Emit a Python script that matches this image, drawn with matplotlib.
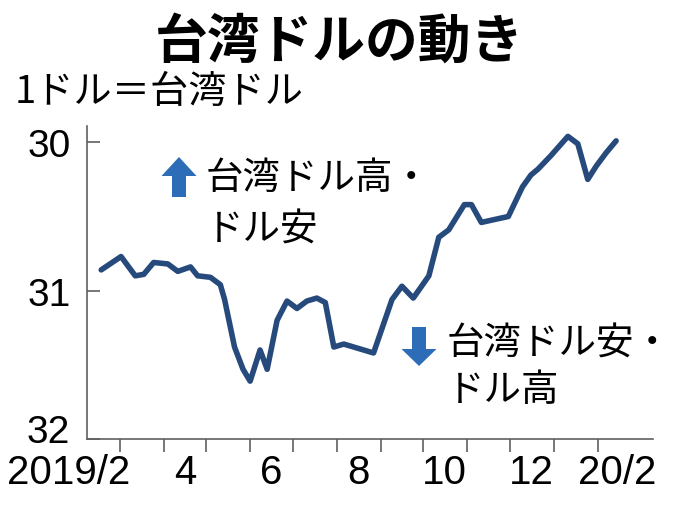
import matplotlib
matplotlib.use("Agg")
import matplotlib.pyplot as plt
import matplotlib.patches as mpatches
from matplotlib import font_manager as fm
from matplotlib.transforms import ScaledTranslation
import pandas as pd

# ---- data ----
dates = ["2019-02-16", "2019-03-02", "2019-03-12", "2019-03-18", "2019-03-25",
         "2019-04-04", "2019-04-11", "2019-04-20", "2019-04-25", "2019-05-04",
         "2019-05-11", "2019-05-14", "2019-05-21", "2019-05-27", "2019-06-01",
         "2019-06-08", "2019-06-13", "2019-06-20", "2019-06-27", "2019-07-04",
         "2019-07-11", "2019-07-18", "2019-07-24", "2019-07-30", "2019-08-06",
         "2019-08-13", "2019-08-20", "2019-08-27", "2019-09-09", "2019-09-16",
         "2019-09-24", "2019-10-05", "2019-10-12", "2019-10-19", "2019-10-30",
         "2019-11-04", "2019-11-11", "2019-11-30", "2019-12-10", "2019-12-16",
         "2019-12-21", "2019-12-30", "2020-01-11", "2020-01-18", "2020-01-25",
         "2020-01-31", "2020-02-07", "2020-02-14"]
twd_per_usd = [30.86, 30.77, 30.90, 30.89, 30.81,
               30.82, 30.87, 30.84, 30.90, 30.91,
               30.96, 31.06, 31.38, 31.53, 31.61,
               31.40, 31.53, 31.20, 31.07, 31.12,
               31.07, 31.05, 31.08, 31.38, 31.36,
               31.38, 31.40, 31.42, 31.06, 30.97,
               31.05, 30.90, 30.64, 30.59, 30.42,
               30.42, 30.54, 30.50, 30.30, 30.22,
               30.18, 30.09, 29.96, 30.01, 30.25,
               30.16, 30.07, 29.99]
y_ticks = [30, 31, 32]
y_tick_labels = ["30", "31", "32"]
month_ticks = ["2019-03-01", "2019-04-01", "2019-05-01", "2019-06-01", "2019-07-01",
               "2019-08-01", "2019-09-01", "2019-10-01", "2019-11-01", "2019-12-01",
               "2020-01-01", "2020-02-01"]
x_label_pos = ["2019-02-15", "2019-04-16", "2019-06-16", "2019-08-16",
               "2019-10-16", "2019-12-16", "2020-02-15"]
x_labels = ["2019/2", "4", "6", "8", "10", "12", "20/2"]

title = "台湾ドルの動き"
unit_label = "1ドル＝台湾ドル"
note_up = ["台湾ドル高・", "ドル安"]
note_down = ["台湾ドル安・", "ドル高"]

# ---- fonts ----
names = {f.name for f in fm.fontManager.ttflist}
narrow = "Liberation Sans Narrow" if "Liberation Sans Narrow" in names else "Liberation Sans"
is_narrow = narrow == "Liberation Sans Narrow"
cjk = ["Noto Sans CJK JP", "DejaVu Sans"]

W, H = 680, 510
fig = plt.figure(figsize=(W / 100, H / 100), dpi=100)
fig.patch.set_facecolor("white")

ax_l, ax_r, ax_t, ax_b = 87, 653, 127, 440
ax = fig.add_axes([ax_l / W, 1 - ax_b / H, (ax_r - ax_l) / W, (ax_b - ax_t) / H])

x = pd.to_datetime(dates)
ax.plot(x, twd_per_usd, color="#264a7c", lw=4.0, solid_joinstyle="round",
        solid_capstyle="round", zorder=3)

ax.set_ylim(32, 29.89)
ax.set_xlim(pd.Timestamp("2019-02-06"), pd.Timestamp("2020-03-11"))

for s in ["top", "right"]:
    ax.spines[s].set_visible(False)
for s in ["left", "bottom"]:
    ax.spines[s].set_color("#606060")
    ax.spines[s].set_linewidth(1.2)

ax.set_yticks(y_ticks)
ax.set_yticklabels(y_tick_labels, fontfamily=narrow, fontsize=30 if is_narrow else 28,
                   color="black")
ax.tick_params(axis="y", direction="in", length=9, width=1.2, color="#606060", pad=12)
lab32 = ax.get_yticklabels()[-1]
lab32.set_transform(lab32.get_transform() + ScaledTranslation(0, 0.11, fig.dpi_scale_trans))

ax.set_xticks(pd.to_datetime(month_ticks))
ax.set_xticklabels([])
ax.tick_params(axis="x", which="major", direction="out", length=9, width=1.2, color="#606060")
ax.set_xticks(pd.to_datetime(x_label_pos), minor=True)
ax.set_xticklabels(x_labels, minor=True, fontfamily=narrow,
                   fontsize=34 if is_narrow else 29, color="black")
ax.tick_params(axis="x", which="minor", length=0, pad=10)
lab0 = ax.get_xticklabels(minor=True)[0]
lab0.set_transform(lab0.get_transform() + ScaledTranslation(-0.31, 0, fig.dpi_scale_trans))

# ---- texts ----
def fx(px):
    return px / W

def fy(py):
    return 1 - py / H

fig.text(fx(340), fy(42), title, family=cjk, fontsize=38, fontweight="bold",
         ha="center", va="center")
fig.text(fx(15), fy(92), unit_label, family=cjk, fontsize=27.5, ha="left", va="center")

fig.text(fx(206), fy(178), note_up[0], family=cjk, fontsize=27, ha="left", va="center")
fig.text(fx(206), fy(230), note_up[1], family=cjk, fontsize=27, ha="left", va="center")
fig.text(fx(447), fy(344), note_down[0], family=cjk, fontsize=27, ha="left", va="center")
fig.text(fx(447), fy(391), note_down[1], family=cjk, fontsize=27, ha="left", va="center")

arrow_color = "#2d6cb6"
up = mpatches.FancyArrow(1.79, (H - 198) / 100, 0, 0.40, width=0.14, head_width=0.35,
                         head_length=0.19, length_includes_head=True,
                         transform=fig.dpi_scale_trans, color=arrow_color, lw=0)
down = mpatches.FancyArrow(4.19, (H - 328) / 100, 0, -0.39, width=0.14, head_width=0.35,
                           head_length=0.17, length_includes_head=True,
                           transform=fig.dpi_scale_trans, color=arrow_color, lw=0)
fig.patches.extend([up, down])

fig.savefig("out.png", dpi=100)
